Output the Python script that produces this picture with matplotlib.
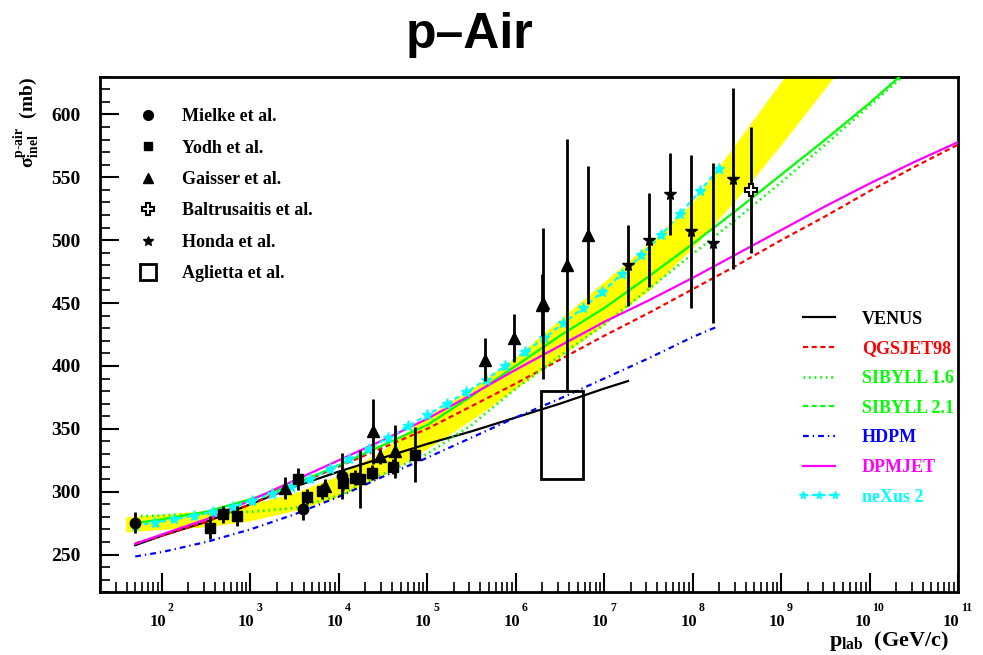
import numpy as np
import matplotlib
matplotlib.use("Agg")
import matplotlib.pyplot as plt
import matplotlib.transforms as mtransforms
from matplotlib.lines import Line2D
from matplotlib.patches import Rectangle
from matplotlib.ticker import FixedLocator, LogLocator, MultipleLocator, NullFormatter

plt.rcParams['font.family'] = 'Liberation Serif'
plt.rcParams['font.weight'] = 'bold'
plt.rcParams['mathtext.fontset'] = 'custom'
plt.rcParams['mathtext.rm'] = 'Liberation Serif:bold'
plt.rcParams['mathtext.it'] = 'Liberation Serif:bold'
plt.rcParams['mathtext.bf'] = 'Liberation Serif:bold'
plt.rcParams['mathtext.default'] = 'rm'

# ---- measurements (p_lab in GeV/c, sigma in mb) ----
mielke_p = [50, 3.9e3, 1.08e4]
mielke_sigma = [275.5, 286.5, 312.5]
mielke_err = [8, 9, 18.5]

yodh_p = [350, 495, 700, 3.5e3, 4.35e3, 6.4e3, 1.12e4, 1.53e4, 1.74e4, 2.36e4, 4.14e4, 7.3e4]
yodh_sigma = [271.5, 282, 280.5, 310, 296, 300.5, 307, 311, 310, 315, 320, 329.5]
yodh_err = [9, 7, 8, 9, 6, 6, 6, 6, 23, 6, 6, 22]

gaisser_p = [2.45e3, 7.0e3, 2.46e4, 2.92e4, 4.3e4, 4.5e5, 9.6e5, 1.97e6, 2.02e6, 3.84e6, 6.6e6]
gaisser_sigma = [303, 304.5, 348, 328, 332, 405, 422, 448.5, 450, 480.5, 504]
gaisser_err = [8.5, 6, 26, 6, 21, 17, 19, 25, 60, 100, 55]

baltrusaitis_p = [4.54e8]
baltrusaitis_sigma = [540]
baltrusaitis_err = [50]

honda_p = [1.85e7, 3.24e7, 5.56e7, 9.55e7, 1.69e8, 2.88e8]
honda_sigma = [480, 500, 537, 507, 498, 549]
honda_err = [32, 37.5, 32.5, 61, 63.5, 72]

aglietta_p = [1.92e6, 5.8e6]
aglietta_sigma = [310, 380]

# ---- model curves (log10 p_lab, sigma in mb) ----
band_logp = [1.59, 2.0, 2.5, 3.0, 3.5, 4.0, 4.5, 5.0, 5.5, 6.0, 6.5, 7.0, 7.5, 8.0, 8.5, 9.0, 9.6]
band_upper = [280, 282, 285, 290, 299, 313, 333, 360, 382, 407, 437, 467, 497, 530, 578, 626, 690]
band_lower = [268, 270, 272, 277, 285, 296, 313, 334, 357, 382, 407, 433, 460, 494, 533, 576, 630]

venus_logp = [1.70, 2.0, 2.5, 3.0, 3.5, 4.0, 4.5, 5.0, 5.5, 6.0, 6.5, 7.0, 7.27]
venus_sigma = [257.5, 265, 276, 290, 304, 316, 327, 338, 348, 359, 370, 382, 388]

qgsjet_logp = [1.70, 2.0, 2.5, 3.0, 3.5, 4.0, 4.5, 5.0, 5.5, 6.0, 6.5, 7.0, 7.5, 8.0, 8.5, 9.0, 9.5, 10.0, 10.5, 11.0]
qgsjet_sigma = [259, 265, 276, 290, 305, 320, 335, 350, 368, 386, 405, 424, 442, 461, 480, 500, 519, 539, 558, 576]

sib16_logp = [1.70, 2.0, 2.5, 3.0, 3.5, 4.0, 4.5, 5.0, 5.5, 6.0, 6.5, 7.0, 7.5, 8.0, 8.5, 9.0, 9.5, 10.0, 10.5]
sib16_sigma = [280.5, 281, 282.5, 284, 287, 297, 314, 330, 353, 382, 408, 433, 461, 489, 517, 546, 576, 607, 638]

sib21_logp = [1.70, 2.0, 2.5, 3.0, 3.5, 4.0, 4.5, 5.0, 5.5, 6.0, 6.5, 7.0, 7.5, 8.0, 8.5, 9.0, 9.5, 10.0, 10.5]
sib21_sigma = [275, 278, 284, 294, 306, 321, 337, 353, 376, 400, 424, 446, 471, 497, 524, 552, 580, 609, 640]

hdpm_logp = [1.70, 2.0, 2.5, 3.0, 3.5, 4.0, 4.5, 5.0, 5.5, 6.0, 6.5, 7.0, 7.5, 8.0, 8.27]
hdpm_sigma = [248.5, 252, 260, 270, 282, 296, 312, 327, 343, 359, 374, 390, 406, 423, 431]

dpmjet_logp = [1.70, 2.0, 2.5, 3.0, 3.5, 4.0, 4.5, 5.0, 5.5, 6.0, 6.5, 7.0, 7.5, 8.0, 8.5, 9.0, 9.5, 10.0, 10.5, 11.0]
dpmjet_sigma = [258.5, 266, 278, 293, 309, 325, 341, 358, 377, 397, 416, 435, 452, 470, 489, 508, 527, 545, 562, 578]

nexus_logp = [1.70, 1.92, 2.14, 2.36, 2.58, 2.80, 3.02, 3.24, 3.46, 3.68, 3.90, 4.12, 4.34, 4.56, 4.78,
              5.00, 5.22, 5.44, 5.66, 5.88, 6.10, 6.32, 6.54, 6.76, 6.98, 7.20, 7.42, 7.64, 7.86, 8.08, 8.30]
nexus_sigma = [273, 275.5, 278, 281, 284, 288, 293, 298, 303.5, 310, 318, 326, 334, 343, 352,
               361, 370, 379, 389, 400, 411, 422, 434, 446, 459, 473, 488, 504, 521, 539, 557]

xticks = [1e2, 1e3, 1e4, 1e5, 1e6, 1e7, 1e8, 1e9, 1e10, 1e11]
xtick_exponents = ['2', '3', '4', '5', '6', '7', '8', '9', '10', '11']


def lin(logp):
    return 10.0 ** np.array(logp)


DASH = (0, (2.3, 1.6))
DOT = (0, (0.6, 1.4))
DASHDOT = (0, (2.6, 1.8, 0.6, 1.8))
lw = 1.6

fig = plt.figure(figsize=(9.83, 6.55), dpi=100)
ax = fig.add_axes([0.1017, 0.0957, 0.8729, 0.7872])

ax.fill_between(lin(band_logp), band_lower, band_upper, color='#ffff00', lw=0, zorder=1)

ax.plot(lin(venus_logp), venus_sigma, color='black', lw=lw, zorder=3)
ax.plot(lin(qgsjet_logp), qgsjet_sigma, color='#ff0000', lw=lw, ls=DASH, zorder=3)
ax.plot(lin(sib16_logp), sib16_sigma, color='#00ff00', lw=2.0, ls=DOT, zorder=3)
ax.plot(lin(sib21_logp), sib21_sigma, color='#00ff00', lw=lw, zorder=3)
ax.plot(lin(hdpm_logp), hdpm_sigma, color='#0000ff', lw=lw, ls=DASHDOT, zorder=3)
ax.plot(lin(dpmjet_logp), dpmjet_sigma, color='#ff00ff', lw=lw, zorder=3)
ax.plot(lin(nexus_logp), nexus_sigma, color='#00ffff', lw=lw, ls=DASH,
        marker='*', ms=8, mec='#00ffff', zorder=3)

eb = dict(ls='none', color='black', ecolor='black', elinewidth=2, capsize=0, zorder=5)
ax.errorbar(mielke_p, mielke_sigma, yerr=mielke_err, fmt='o', ms=7.5, **eb)
ax.errorbar(yodh_p, yodh_sigma, yerr=yodh_err, fmt='s', ms=7, **eb)
ax.errorbar(gaisser_p, gaisser_sigma, yerr=gaisser_err, fmt='^', ms=8, **eb)
ax.errorbar(honda_p, honda_sigma, yerr=honda_err, fmt='*', ms=8.5, **eb)
ax.errorbar(baltrusaitis_p, baltrusaitis_sigma, yerr=baltrusaitis_err, fmt='P', ms=9,
            mfc='white', mec='black', mew=1.5, **eb)
ax.add_patch(Rectangle((aglietta_p[0], aglietta_sigma[0]), aglietta_p[1] - aglietta_p[0],
                       aglietta_sigma[1] - aglietta_sigma[0], fill=False, ec='black', lw=2, zorder=5))

ax.set_xscale('log')
ax.set_xlim(20, 1e11)
ax.set_ylim(220, 630)
ax.xaxis.set_major_locator(FixedLocator(xticks))
ax.xaxis.set_minor_locator(LogLocator(base=10, subs=np.arange(2, 10), numticks=30))
ax.xaxis.set_minor_formatter(NullFormatter())
ax.yaxis.set_major_locator(MultipleLocator(50))
ax.yaxis.set_minor_locator(MultipleLocator(10))
ax.tick_params(which='both', direction='in', top=False, right=False)
ax.tick_params(which='major', length=14, width=1.5)
ax.tick_params(which='minor', length=7, width=1.2)
ax.tick_params(axis='y', labelsize=14, pad=14)
ax.tick_params(axis='x', labelbottom=False)
for s in ax.spines.values():
    s.set_linewidth(2)

# ROOT style "10^n" labels: raised exponent, whole label centred on the tick
xy_trans = mtransforms.blended_transform_factory(ax.transData, ax.transAxes)
for tick, expo in zip(xticks, xtick_exponents):
    dx = -4 if len(expo) == 1 else -7
    t_base = xy_trans + mtransforms.ScaledTranslation(dx / 100, 0, fig.dpi_scale_trans)
    t_exp = xy_trans + mtransforms.ScaledTranslation((dx + 10) / 100, 15 / 100, fig.dpi_scale_trans)
    ax.text(tick, -0.0654, '10', transform=t_base, ha='center', va='baseline', fontsize=12)
    ax.text(tick, -0.0654, expo, transform=t_exp, ha='left', va='baseline', fontsize=8.5)

ax.text(0.99, -0.095, r'$p_{lab}$  (GeV/c)', transform=ax.transAxes, ha='right', va='center', fontsize=16)
ax.text(-0.085, 1.0, r'$\sigma_{inel}^{p\text{-}air}$  (mb)', transform=ax.transAxes,
        rotation=90, ha='center', va='top', fontsize=14)
fig.text(0.478, 0.927, 'p\u2013Air', ha='center', va='baseline', fontsize=36,
         family='Liberation Sans', weight='bold')

legend_font = {'family': 'Liberation Serif', 'weight': 'bold', 'size': 13}

data_handles = [
    Line2D([], [], ls='none', marker='o', color='black', ms=7),
    Line2D([], [], ls='none', marker='s', color='black', ms=6),
    Line2D([], [], ls='none', marker='^', color='black', ms=6.5),
    Line2D([], [], ls='none', marker='P', mfc='white', mec='black', mew=1.5, ms=8),
    Line2D([], [], ls='none', marker='*', color='black', ms=7),
    Line2D([], [], ls='none', marker='s', mfc='none', mec='black', mew=2, ms=11),
]
data_labels = ['Mielke et al.', 'Yodh et al.', 'Gaisser et al.', 'Baltrusaitis et al.',
               'Honda et al.', 'Aglietta et al.']
leg1 = ax.legend(data_handles, data_labels, loc='upper left', bbox_to_anchor=(0.0455, 0.939),
                 frameon=False, numpoints=1, handlelength=1.0, handletextpad=1.38,
                 labelspacing=0.80, borderpad=0, borderaxespad=0, prop=legend_font)
ax.add_artist(leg1)

model_handles = [
    Line2D([], [], color='black', lw=lw),
    Line2D([], [], color='#ff0000', lw=lw, ls=DASH),
    Line2D([], [], color='#00ff00', lw=2.0, ls=DOT),
    Line2D([], [], color='#00ff00', lw=lw, ls=DASH),
    Line2D([], [], color='#0000ff', lw=lw, ls=DASHDOT),
    Line2D([], [], color='#ff00ff', lw=lw),
    Line2D([], [], color='#00ffff', lw=lw, ls=DASH, marker='*', ms=5.5),
]
model_labels = ['VENUS', 'QGSJET98', 'SIBYLL 1.6', 'SIBYLL 2.1', 'HDPM', 'DPMJET', 'neXus 2']
leg2 = ax.legend(model_handles, model_labels, loc='upper left', bbox_to_anchor=(0.8135, 0.546),
                 frameon=False, numpoints=3, handlelength=2.33, handletextpad=1.22,
                 labelspacing=0.70, borderpad=0, borderaxespad=0, labelcolor='linecolor',
                 prop=legend_font)

fig.savefig('out.png', dpi=100)
